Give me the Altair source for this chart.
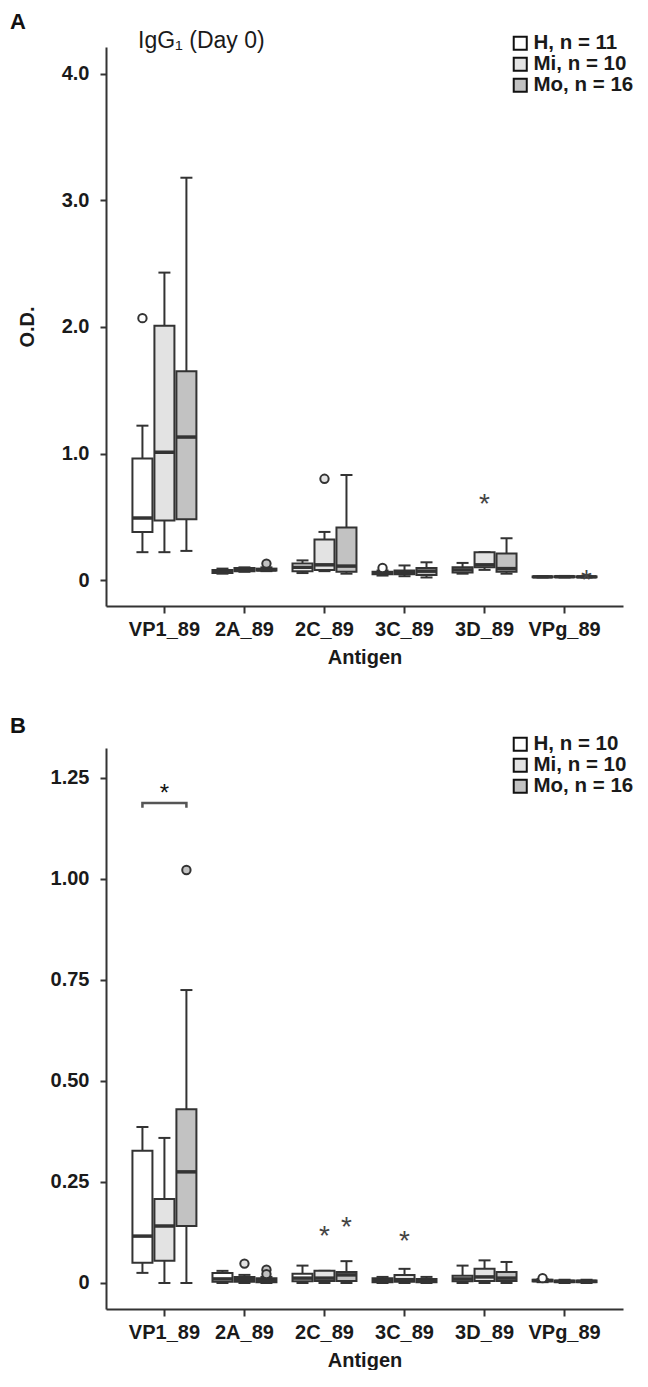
import altair as alt
import pandas as pd

antigens = ["VP1_89", "2A_89", "2C_89", "3C_89", "3D_89", "VPg_89"]
groups = ["H", "Mi", "Mo"]
fills = ["#ffffff", "#e3e3e3", "#c2c2c2"]

# ---------- Panel A : IgG1 (Day 0) ----------
a_labels = ["H, n = 11", "Mi, n = 10", "Mo, n = 16"]
# order: antigen-major, then H, Mi, Mo
a_low = [0.22, 0.22, 0.23, 0.05, 0.065, 0.07, 0.055, 0.07, 0.05,
         0.035, 0.03, 0.02, 0.05, 0.08, 0.05, 0.02, 0.02, 0.02]
a_q1 = [0.38, 0.47, 0.48, 0.055, 0.07, 0.075, 0.07, 0.08, 0.065,
        0.045, 0.045, 0.04, 0.06, 0.10, 0.065, 0.022, 0.023, 0.022]
a_med = [0.49, 1.01, 1.13, 0.065, 0.08, 0.08, 0.10, 0.12, 0.11,
         0.055, 0.06, 0.07, 0.08, 0.12, 0.09, 0.025, 0.026, 0.025]
a_q3 = [0.96, 2.01, 1.65, 0.08, 0.095, 0.09, 0.13, 0.32, 0.415,
        0.065, 0.075, 0.095, 0.10, 0.22, 0.21, 0.028, 0.03, 0.028]
a_high = [1.22, 2.43, 3.18, 0.09, 0.10, 0.10, 0.155, 0.38, 0.83,
          0.075, 0.115, 0.14, 0.135, 0.22, 0.33, 0.03, 0.032, 0.03]
a_out_antigen = ["VP1_89", "2A_89", "2C_89", "3C_89"]
a_out_group = ["H", "Mo", "Mi", "H"]
a_out_value = [2.07, 0.13, 0.80, 0.095]
a_star_antigen = ["3D_89", "VPg_89"]
a_star_group = ["Mi", "Mo"]
a_star_value = [0.65, 0.05]

# ---------- Panel B ----------
b_labels = ["H, n = 10", "Mi, n = 10", "Mo, n = 16"]
b_low = [0.025, 0.0, 0.0, 0.0, 0.0, 0.0, 0.0, 0.0, 0.0,
         0.0, 0.0, 0.0, 0.0, 0.0, 0.0, 0.002, 0.0, 0.0]
b_q1 = [0.05, 0.055, 0.141, 0.003, 0.003, 0.002, 0.004, 0.005, 0.005,
        0.002, 0.003, 0.002, 0.004, 0.005, 0.005, 0.004, 0.002, 0.002]
b_med = [0.116, 0.141, 0.275, 0.01, 0.008, 0.006, 0.012, 0.012, 0.02,
         0.006, 0.008, 0.005, 0.01, 0.015, 0.012, 0.006, 0.004, 0.004]
b_q3 = [0.327, 0.208, 0.43, 0.025, 0.015, 0.012, 0.023, 0.03, 0.027,
        0.012, 0.02, 0.01, 0.018, 0.035, 0.027, 0.008, 0.006, 0.006]
b_high = [0.386, 0.359, 0.725, 0.03, 0.02, 0.015, 0.043, 0.03, 0.054,
          0.015, 0.035, 0.015, 0.043, 0.056, 0.052, 0.01, 0.008, 0.008]
b_out_antigen = ["VP1_89", "2A_89", "2A_89", "2A_89", "VPg_89"]
b_out_group = ["Mo", "Mi", "Mo", "Mo", "H"]
b_out_value = [1.022, 0.048, 0.033, 0.022, 0.012]
b_star_antigen = ["2C_89", "2C_89", "3C_89"]
b_star_group = ["Mi", "Mo", "Mi"]
b_star_value = [0.132, 0.153, 0.118]
# significance bracket VP1_89: H vs Mo
b_sig_group = ["H", "H", "Mo", "Mo"]
b_sig_value = [1.176, 1.188, 1.188, 1.176]
b_sig_star = 1.225

FONT = "Liberation Sans"
INK = "#333333"
TXT = "#1a1a1a"


def box_df(labels, lo, q1, med, q3, hi):
    rows = []
    i = 0
    for ag in antigens:
        for g in range(3):
            rows.append(dict(antigen=ag, grp=labels[g], lo=lo[i], q1=q1[i],
                             med=med[i], q3=q3[i], hi=hi[i]))
            i += 1
    return pd.DataFrame(rows)


def pts_df(labels, ags, grps, vals):
    return pd.DataFrame(dict(antigen=ags,
                             grp=[labels[groups.index(g)] for g in grps],
                             v=vals))


def panel(letter, labels, df, out, stars, ydom, yvals, yfmt, ytitle,
          height, extra=None, top_text=None):
    xenc = alt.X("antigen:N", sort=antigens,
                 scale=alt.Scale(paddingInner=0, paddingOuter=0.23),
                 axis=alt.Axis(title="Antigen", labelAngle=0, labelFont=FONT,
                               labelFontSize=20, labelFontWeight="bold",
                               labelColor=TXT, titleFont=FONT,
                               titleFontSize=20, titleFontWeight="bold",
                               titleColor=TXT, domainColor=INK,
                               domainWidth=2, tickColor=INK, tickWidth=2,
                               tickSize=7, labelPadding=6, titlePadding=8))
    xoff = alt.XOffset("grp:N", sort=labels,
                       scale=alt.Scale(paddingInner=0, paddingOuter=0.32))
    yaxis = alt.Axis(values=yvals, grid=False,
                     labelExpr="datum.value == 0 ? '0' : format(datum.value, '" + yfmt + "')",
                     labelFont=FONT, labelFontSize=20, labelFontWeight="bold",
                     labelColor=TXT, titleFont=FONT, titleFontSize=20,
                     titleFontWeight="bold", titleColor=TXT,
                     domainColor=INK, domainWidth=2, tickColor=INK,
                     tickWidth=2, tickSize=6, labelPadding=11, titlePadding=24)
    yscale = alt.Scale(domain=ydom, nice=False, zero=False)
    col = alt.Color("grp:N", sort=labels,
                    scale=alt.Scale(domain=labels, range=fills),
                    legend=alt.Legend(title=None, orient="none", legendX=404,
                                      legendY=-14, symbolType="square",
                                      symbolSize=170, symbolStrokeColor="#111111",
                                      symbolStrokeWidth=2, labelFont=FONT,
                                      labelFontSize=20.5, labelFontWeight="bold",
                                      labelColor=TXT, rowPadding=-2,
                                      labelOffset=3))

    base = alt.Chart(df).encode(x=xenc, xOffset=xoff)
    whisk = base.mark_rule(color=INK, strokeWidth=2).encode(
        y=alt.Y("lo:Q", scale=yscale, axis=yaxis, title=ytitle), y2="hi:Q")
    cap_lo = base.mark_tick(color=INK, size=12, thickness=2, opacity=1).encode(y="lo:Q")
    cap_hi = base.mark_tick(color=INK, size=12, thickness=2, opacity=1).encode(y="hi:Q")
    box = base.mark_bar(size=20, stroke=INK, strokeWidth=2, opacity=1).encode(
        y="q1:Q", y2="q3:Q", color=col)
    med = base.mark_tick(color=INK, size=20, thickness=3.5, opacity=1).encode(y="med:Q")

    pts = alt.Chart(out).mark_point(shape="circle", filled=True, size=70,
                                     stroke=INK, strokeWidth=2, opacity=1).encode(
        x=alt.X("antigen:N", sort=antigens), xOffset=alt.XOffset("grp:N", sort=labels),
        y="v:Q", fill=alt.Fill("grp:N", sort=labels,
                               scale=alt.Scale(domain=labels, range=fills), legend=None))
    st = alt.Chart(stars).mark_text(text="*", fontSize=28, font=FONT,
                                    color="#444444", baseline="middle", dy=7).encode(
        x=alt.X("antigen:N", sort=antigens), xOffset=alt.XOffset("grp:N", sort=labels),
        y="v:Q")
    layers = [whisk, cap_lo, cap_hi, box, med, pts, st]
    if extra is not None:
        layers += extra
    if top_text is not None:
        layers.append(alt.Chart(pd.DataFrame({"t": [top_text]})).mark_text(
            font=FONT, fontSize=23, color=TXT, align="left",
            baseline="middle").encode(text="t:N", x=alt.value(32), y=alt.value(-6)))
    return alt.layer(*layers).properties(
        width=517, height=height,
        title=alt.TitleParams(letter, anchor="start", frame="group", dx=-96,
                              offset=-4, fontSize=22, fontWeight="bold",
                              font=FONT, color="#111111"))


dfA = box_df(a_labels, a_low, a_q1, a_med, a_q3, a_high)
outA = pts_df(a_labels, a_out_antigen, a_out_group, a_out_value)
starA = pts_df(a_labels, a_star_antigen, a_star_group, a_star_value)
chartA = panel("A", a_labels, dfA, outA, starA, [-0.2055, 4.2134],
               [0, 1, 2, 3, 4], ".1f", "O.D.", 559, top_text="IgG\u2081 (Day 0)")

dfB = box_df(b_labels, b_low, b_q1, b_med, b_q3, b_high)
outB = pts_df(b_labels, b_out_antigen, b_out_group, b_out_value)
starB = pts_df(b_labels, b_star_antigen, b_star_group, b_star_value)
sig = pd.DataFrame(dict(antigen=["VP1_89"] * 4,
                        grp=[b_labels[groups.index(g)] for g in b_sig_group],
                        v=b_sig_value, o=[0, 1, 2, 3]))
sig_line = alt.Chart(sig).mark_line(color="#555555", strokeWidth=2.5).encode(
    x=alt.X("antigen:N", sort=antigens), xOffset=alt.XOffset("grp:N", sort=b_labels),
    y="v:Q", order="o:Q")
sig_star = alt.Chart(pd.DataFrame(dict(antigen=["VP1_89"], grp=[b_labels[1]],
                                       v=[b_sig_star]))).mark_text(
    text="*", fontSize=24, font=FONT, color="#111111", baseline="middle", dy=6).encode(
    x=alt.X("antigen:N", sort=antigens), xOffset=alt.XOffset("grp:N", sort=b_labels),
    y="v:Q")
chartB = panel("B", b_labels, dfB, outB, starB, [-0.0644, 1.324],
               [0, 0.25, 0.5, 0.75, 1.0, 1.25], ".2f", None, 561,
               extra=[sig_line, sig_star])

chart = alt.vconcat(chartA, chartB, spacing=48).resolve_scale(
    color="independent", fill="independent", xOffset="independent"
).resolve_legend(color="independent").properties(
    padding={"left": 2, "top": 3, "right": 0, "bottom": 0}
).configure_view(stroke=None)

chart.save("out.html", embed_options={"renderer": "svg", "actions": False})
